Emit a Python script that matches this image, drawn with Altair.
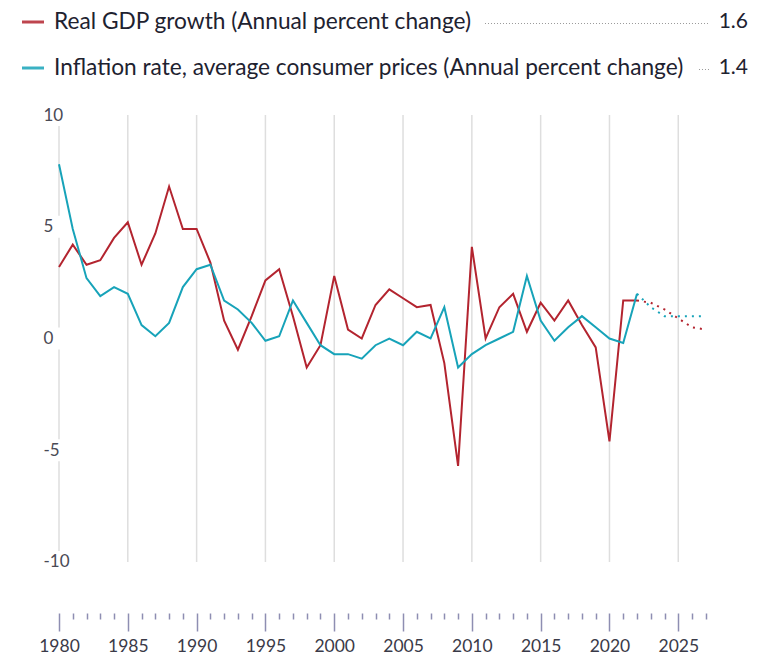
import altair as alt
import pandas as pd

# ---------------- data ----------------
years = list(range(1980, 2028))
gdp = [3.2, 4.2, 3.3, 3.5, 4.5, 5.2, 3.3, 4.7, 6.8, 4.9,
       4.9, 3.4, 0.8, -0.5, 1.0, 2.6, 3.1, 1.0, -1.3, -0.3,
       2.8, 0.4, 0.0, 1.5, 2.2, 1.8, 1.4, 1.5, -1.1, -5.7,
       4.1, 0.0, 1.4, 2.0, 0.3, 1.6, 0.8, 1.7, 0.6, -0.4,
       -4.6, 1.7, 1.7, 1.6, 1.3, 0.9, 0.5, 0.4]
inflation = [7.8, 4.9, 2.7, 1.9, 2.3, 2.0, 0.6, 0.1, 0.7, 2.3,
             3.1, 3.3, 1.7, 1.3, 0.7, -0.1, 0.1, 1.7, 0.7, -0.3,
             -0.7, -0.7, -0.9, -0.3, 0.0, -0.3, 0.3, 0.0, 1.4, -1.3,
             -0.7, -0.3, 0.0, 0.3, 2.8, 0.8, -0.1, 0.5, 1.0, 0.5,
             0.0, -0.2, 2.0, 1.4, 1.0, 1.0, 1.0, 1.0]
series_names = ["Real GDP growth (Annual percent change)",
                "Inflation rate, average consumer prices (Annual percent change)"]
legend_values = ["1.6", "1.4"]
last_actual_year = 2022
y_ticks = [-10, -5, 0, 5, 10]
grid_years = list(range(1980, 2030, 5))
line_colors = ["#b3242f", "#17a3b9"]

rows = []
for i, yr in enumerate(years):
    rows.append({"year": yr, "series": series_names[0], "value": gdp[i]})
    rows.append({"year": yr, "series": series_names[1], "value": inflation[i]})
df = pd.DataFrame(rows)

FONT = "Lato"

x_scale = alt.Scale(domain=[years[0], years[-1]], nice=False, zero=False)
y_scale = alt.Scale(domain=[y_ticks[0], y_ticks[-1]], nice=False, zero=False)
color_scale = alt.Scale(domain=series_names, range=line_colors)

x_axis = alt.Axis(
    values=years, format="d",
    labelExpr="datum.value % 5 === 0 ? datum.label : ''",
    labelOverlap=False, labelFlush=False, labelBound=False,
    domain=False, grid=False, offset=51,
    tickSize=18, tickWidth=1.5, tickColor="#8e8eb2",
    tickDash={"condition": {"test": "datum.value % 5 !== 0", "value": [6, 40]},
              "value": [40, 0]},
    labelFont=FONT, labelFontSize=17.5, labelColor="#3a3a48", labelPadding=7,
)
y_axis = alt.Axis(
    values=y_ticks, labelAlign="left", labelBaseline="middle", labelPadding=16,
    labelExpr="'' + datum.value",
    ticks=False, tickSize=0, domain=False, grid=False, zindex=1,
    labelFont=FONT, labelFontSize=17, labelColor="#4a4a55",
)

X = alt.X("year:Q", scale=x_scale, axis=x_axis, title=None)

grid = alt.Chart(pd.DataFrame({"year": grid_years})).mark_rule(
    color="#dedede", strokeWidth=1.5
).encode(
    x=X,
    y=alt.YDatum(y_ticks[0], scale=y_scale, axis=y_axis, title=None),
    y2=alt.Y2Datum(y_ticks[-1]),
)

halo = alt.Chart(pd.DataFrame({"v": y_ticks})).mark_tick(
    orient="vertical", color="white", opacity=1, size=22, thickness=8
).encode(
    x=alt.XDatum(years[0], scale=x_scale, axis=x_axis, title=None),
    y=alt.Y("v:Q", scale=y_scale, axis=y_axis, title=None),
)

base = alt.Chart(df)
color = alt.Color("series:N", scale=color_scale, legend=None)

actual = base.transform_filter(alt.datum.year <= last_actual_year).mark_line(
    strokeWidth=2
).encode(
    x=X, y=alt.Y("value:Q", scale=y_scale, axis=y_axis, title=None),
    color=color, detail="series:N",
)
proj = base.transform_filter(alt.datum.year >= last_actual_year).mark_line(
    strokeWidth=2, strokeDash=[2, 5]
).encode(
    x=X, y=alt.Y("value:Q", scale=y_scale, axis=y_axis, title=None),
    color=color, detail="series:N",
)

main = alt.layer(grid, halo, actual, proj)

# ---------------- legend ----------------
leg_df = pd.DataFrame({"series": series_names, "val": legend_values, "row": [0, 1]})
leg_y = alt.Y("row:Q", scale=alt.Scale(domain=[0, 1], range=[-93, -47]), axis=None)
leg = alt.Chart(leg_df)

swatch = leg.mark_rule(strokeWidth=3, opacity=0.85).encode(
    x=alt.value(-37), x2=alt.value(-15), y=leg_y, color=color
)
label = leg.mark_text(align="left", baseline="middle", font=FONT, fontSize=22.7,
                      color="#1e2230").encode(x=alt.value(-5), y=leg_y, text="series:N")
value = leg.mark_text(align="right", baseline="middle", font=FONT, fontSize=21,
                      color="#1e2230").encode(x=alt.value(689), y=leg_y, text="val:N")
leader1 = leg.transform_filter("datum.row == 0").mark_rule(
    strokeDash=[1, 2], color="#9a9a9a", strokeWidth=1, yOffset=1.5
).encode(x=alt.value(426), x2=alt.value(650), y=leg_y)
leader2 = leg.transform_filter("datum.row == 1").mark_rule(
    strokeDash=[1, 2], color="#9a9a9a", strokeWidth=1, yOffset=1.5
).encode(x=alt.value(640), x2=alt.value(650), y=leg_y)

legend = alt.layer(swatch, leader1, leader2, label, value)

chart = alt.layer(main, legend).resolve_scale(y="independent").properties(
    width=646.8, height=447,
    autosize=alt.AutoSizeParams(type="none"),
    padding={"left": 51, "top": 107, "right": 45, "bottom": 97},
    view=alt.ViewBackground(stroke="transparent", strokeWidth=0),
).configure_view(
    stroke="transparent", strokeWidth=0
).configure_axis(
    grid=False, domain=False
).configure(font=FONT, background="white")

chart.save("out.html", embed_options={"renderer": "svg", "actions": False})
